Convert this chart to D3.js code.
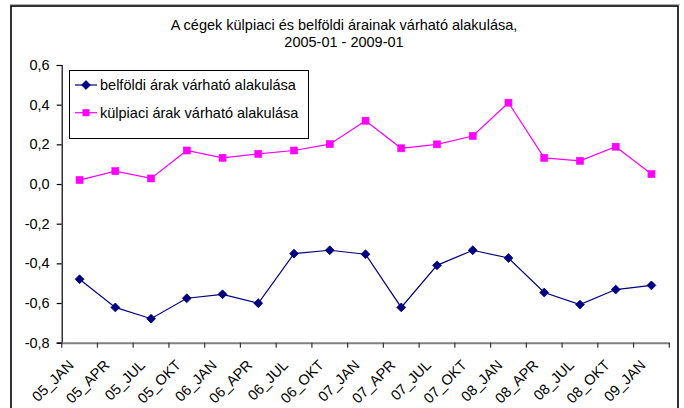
<!DOCTYPE html>
<html>
<head>
<meta charset="utf-8">
<script src="https://cdn.jsdelivr.net/npm/d3@7"></script>
<style>
body { margin: 0; background: #fff; }
svg { display: block; font-family: "Liberation Sans", Arial, sans-serif; }
</style>
</head>
<body>
<svg id="chart" width="684" height="408"></svg>
<script>
const categories = ["05_JAN","05_APR","05_JUL","05_OKT","06_JAN","06_APR","06_JUL","06_OKT","07_JAN","07_APR","07_JUL","07_OKT","08_JAN","08_APR","08_JUL","08_OKT","09_JAN"];
const belfoldi = [-0.48,-0.622,-0.679,-0.576,-0.556,-0.601,-0.351,-0.334,-0.354,-0.622,-0.41,-0.334,-0.373,-0.547,-0.608,-0.532,-0.511];
const kulpiaci = [0.02,0.065,0.028,0.169,0.132,0.152,0.169,0.201,0.319,0.18,0.20,0.242,0.41,0.132,0.117,0.188,0.05];
const yTicks = [0.6,0.4,0.2,0.0,-0.2,-0.4,-0.6,-0.8];
const seriesNames = ["belföldi árak várható alakulása","külpiaci árak várható alakulása"];
const titleLines = ["A cégek külpiaci és belföldi árainak várható alakulása,","2005-01 - 2009-01"];

const svg = d3.select("#chart");
const pLeft = 61.7, pRight = 669.3, pTop = 65, pBottom = 342.7;

// outer frame
svg.append("line").attr("x1",10).attr("x2",680).attr("y1",4.5).attr("y2",4.5).attr("stroke","#b0b0b0").attr("stroke-width",1);
svg.append("rect").attr("x",11).attr("y",6).attr("width",667).attr("height",420)
  .attr("fill","none").attr("stroke","#000").attr("stroke-width",1.6);

// title
svg.append("g").selectAll("text").data(titleLines).join("text")
  .attr("x",344).attr("y",(d,i)=>29.5+i*17)
  .attr("text-anchor","middle").attr("font-size",14.5).attr("fill","#000").text(d=>d);

const x = d3.scaleBand().domain(categories).range([pLeft,pRight]).padding(0);
const y = d3.scaleLinear().domain([-0.8,0.6]).range([pBottom,pTop]);
const fmt = v => d3.format(".1f")(v).replace(".",",").replace("−","-");

// y axis
const yAxis = svg.append("g").attr("transform",`translate(${pLeft},0)`)
  .call(d3.axisLeft(y).tickValues(yTicks).tickSize(5).tickPadding(7).tickFormat(fmt));
yAxis.select(".domain").attr("stroke","#000").attr("stroke-width",1.2);
yAxis.selectAll(".tick line").attr("stroke","#000").attr("stroke-width",1.2);
yAxis.selectAll(".tick text").attr("font-size",14.5).attr("fill","#000")
  .attr("font-family","Liberation Sans, Arial, sans-serif");

// x axis
const xAxis = svg.append("g").attr("transform",`translate(0,${pBottom})`)
  .call(d3.axisBottom(x).tickSize(0).tickFormat(""));
xAxis.select(".domain").attr("stroke","#808080").attr("stroke-width",2);
// tick marks at category boundaries
const bounds = categories.map(c=>x(c)).concat([x(categories[categories.length-1])+x.bandwidth()]);
svg.append("g").selectAll("line").data(bounds).join("line")
  .attr("x1",d=>d).attr("x2",d=>d).attr("y1",pBottom).attr("y2",pBottom+5)
  .attr("stroke","#333").attr("stroke-width",1.2);
svg.append("g").selectAll("text").data(categories).join("text")
  .attr("transform",d=>`translate(${x(d)+x.bandwidth()/2-5},366) rotate(-45)`)
  .attr("text-anchor","end").attr("font-size",14.5).attr("fill","#000").text(d=>d);

const cx = d => x(d)+x.bandwidth()/2;
const line = d3.line().x((d,i)=>cx(categories[i])).y(d=>y(d));

// series
const navy = "#000080", mag = "#FF00FF";
svg.append("path").datum(belfoldi).attr("d",line).attr("fill","none").attr("stroke",navy).attr("stroke-width",1.2);
svg.append("path").datum(kulpiaci).attr("d",line).attr("fill","none").attr("stroke",mag).attr("stroke-width",1.2);

const diamond = d3.symbol().type(d3.symbolDiamond2).size(50);
svg.append("g").selectAll("path").data(belfoldi).join("path")
  .attr("transform",(d,i)=>`translate(${cx(categories[i])},${y(d)})`)
  .attr("d",diamond()).attr("fill",navy).attr("stroke",navy).attr("stroke-width",0.8);
svg.append("g").selectAll("rect").data(kulpiaci).join("rect")
  .attr("x",(d,i)=>cx(categories[i])-3.5).attr("y",d=>y(d)-3.5)
  .attr("width",7).attr("height",7).attr("fill",mag).attr("stroke",mag).attr("stroke-width",0.6);

// legend
const lg = svg.append("g");
lg.append("rect").attr("x",69.5).attr("y",70.5).attr("width",239).attr("height",68)
  .attr("fill","#fff").attr("stroke","#000").attr("stroke-width",1);
const rows = [85, 112.7];
seriesNames.forEach((name,i)=>{
  const col = i===0?navy:mag;
  lg.append("line").attr("x1",75).attr("x2",97).attr("y1",rows[i]).attr("y2",rows[i]).attr("stroke",col).attr("stroke-width",1.2);
  if(i===0){
    lg.append("path").attr("transform",`translate(86,${rows[i]})`).attr("d",diamond()).attr("fill",navy).attr("stroke",navy).attr("stroke-width",0.8);
  } else {
    lg.append("rect").attr("x",82.5).attr("y",rows[i]-3.5).attr("width",7).attr("height",7).attr("fill",mag);
  }
  lg.append("text").attr("x",100).attr("y",rows[i]+5).attr("font-size",14.5).attr("fill","#000").text(name);
});
</script>
</body>
</html>
